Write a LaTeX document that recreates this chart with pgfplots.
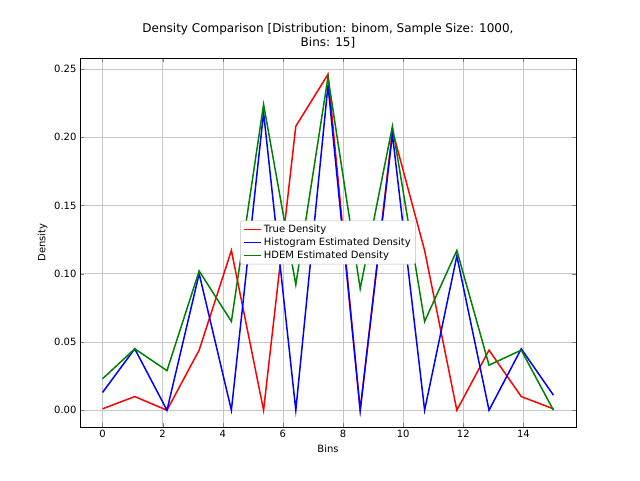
\documentclass[border=0pt]{standalone}
\usepackage{pgfplots}
\pgfplotsset{compat=1.18}
\usepackage{fontspec}
\setmainfont{DejaVu Sans}
\begin{document}
\begin{tikzpicture}[x=1pt,y=1pt]
\path (0,0) rectangle (640,480);
\begin{axis}[
  scale only axis, width=496pt, height=369pt,
  at={(80pt,53pt)}, anchor=south west,
  xmin=-0.75, xmax=15.75, ymin=-0.0123, ymax=0.258,
  xtick={0,2,...,14}, ytick={0,0.05,...,0.25},
  yticklabel style={/pgf/number format/.cd,fixed,fixed zerofill,precision=2},
  /pgf/number format/assume math mode=true,
  ticklabel style={font=\fontsize{10}{12}\selectfont},
  grid=major, grid style={gray!45},
  xlabel={Bins}, ylabel={Density},
  label style={font=\fontsize{10}{12}\selectfont},
  title={Density Comparison [Distribution: binom, Sample Size: 1000,\\Bins: 15]},
  title style={align=center,font=\fontsize{12}{14}\selectfont},
  legend style={at={(0.5,0.5)},anchor=center,font=\fontsize{10}{13}\selectfont,draw=gray!50,rounded corners=2pt},
  legend cell align=left,
  every axis plot/.append style={line width=1.5pt},
]
\addplot[red] coordinates {(0,0.001)(1.071,0.010)(2.143,0.0)(3.214,0.044)(4.286,0.117)(5.357,0.0)(6.429,0.208)(7.5,0.246)(8.571,0.0)(9.643,0.205)(10.714,0.117)(11.786,0.0)(12.857,0.044)(13.929,0.010)(15,0.001)};
\addplot[blue] coordinates {(0,0.013)(1.071,0.045)(2.143,0.0)(3.214,0.100)(4.286,0.0)(5.357,0.218)(6.429,0.0)(7.5,0.238)(8.571,0.0)(9.643,0.202)(10.714,0.0)(11.786,0.113)(12.857,0.0)(13.929,0.045)(15,0.011)};
\addplot[green!50!black] coordinates {(0,0.023)(1.071,0.045)(2.143,0.029)(3.214,0.102)(4.286,0.065)(5.357,0.224)(6.429,0.092)(7.5,0.244)(8.571,0.089)(9.643,0.208)(10.714,0.065)(11.786,0.117)(12.857,0.033)(13.929,0.044)(15,0.0)};
\legend{True Density,Histogram Estimated Density,HDEM Estimated Density}
\end{axis}
\end{tikzpicture}
\end{document}
